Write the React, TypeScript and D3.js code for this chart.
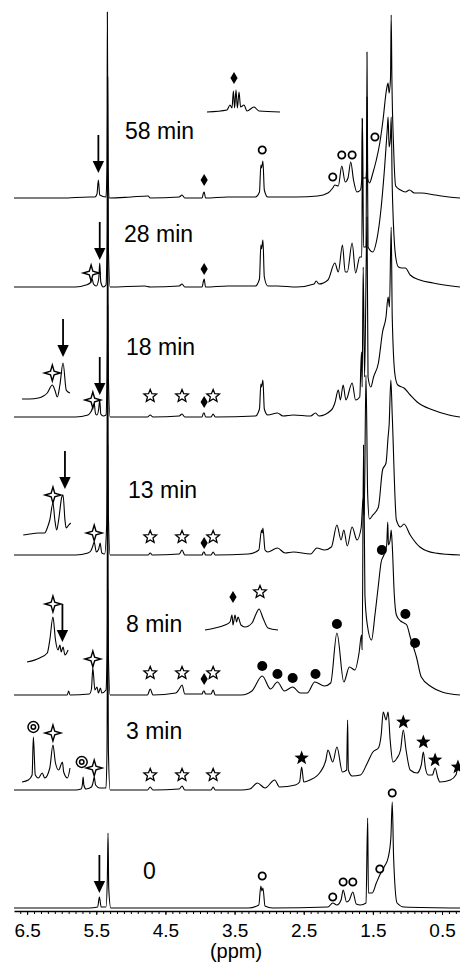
import { useEffect, useRef } from "react";
import * as d3 from "d3";

type Pt = [number, number]; // [ppm, intensity]
type Mark = [string, number, number]; // [kind, ppm, height above baseline]

const times = ["58 min", "28 min", "18 min", "13 min", "8 min", "3 min", "0"];
const tickLabels = [6.5, 5.5, 4.5, 3.5, 2.5, 1.5, 0.5];

// spectra traces
const spec58: Pt[] = [
  [6.69, 0], [6.0, 0], [5.6, 1], [5.52, 1], [5.49, 4], [5.47, 18], [5.45, 3], [5.36, 1],
  [5.345, 30], [5.34, 186], [5.33, 30], [5.31, 0], [5.0, 1], [4.75, 2], [4.72, 0], [4.3, 1],
  [4.26, 3], [4.22, 0], [3.97, 0], [3.95, 5], [3.94, 6], [3.92, 0], [3.6, 1], [3.2, 1],
  [3.14, 6], [3.12, 33], [3.11, 30], [3.09, 37], [3.07, 8], [3.02, 1], [2.6, 1], [2.3, 2],
  [2.15, 5], [2.08, 10], [2.05, 13], [2.0, 12], [1.95, 32], [1.9, 16], [1.86, 20], [1.82, 36],
  [1.78, 18], [1.73, 6], [1.68, 8], [1.66, 20], [1.655, 80], [1.65, 20], [1.6, 20], [1.59, 30],
  [1.585, 146], [1.575, 20], [1.55, 15], [1.5, 25], [1.45, 38], [1.4, 55], [1.35, 80],
  [1.31, 105], [1.29, 113], [1.28, 115], [1.265, 105], [1.245, 120], [1.235, 183], [1.225, 120],
  [1.2, 50], [1.17, 12], [1.1, 8], [1.03, 6], [0.97, 8], [0.9, 5], [0.8, 5], [0.6, 3], [0.4, 1],
  [0.24, 0],
];
const spec28: Pt[] = [
  [6.69, 0], [5.8, 0], [5.65, 2], [5.59, 4], [5.56, 8], [5.54, 3], [5.5, 1], [5.465, 8],
  [5.45, 24], [5.435, 5], [5.4, 0], [5.36, 2], [5.345, 40], [5.335, 210], [5.325, 40], [5.3, 0],
  [4.8, 1], [4.72, 0], [4.3, 1], [4.26, 3], [4.22, 0], [3.97, 0], [3.95, 6], [3.94, 8], [3.92, 0],
  [3.6, 1], [3.2, 1], [3.14, 8], [3.12, 42], [3.11, 38], [3.09, 47], [3.07, 10], [3.02, 1],
  [2.88, 1], [2.6, 0], [2.35, 3], [2.32, 6], [2.28, 3], [2.15, 7], [2.05, 24], [2.0, 15],
  [1.94, 42], [1.9, 15], [1.87, 15], [1.8, 44], [1.75, 14], [1.69, 30], [1.66, 30], [1.65, 168],
  [1.635, 40], [1.6, 40], [1.585, 190], [1.57, 40], [1.5, 35], [1.45, 45], [1.4, 67], [1.33, 120],
  [1.29, 160], [1.28, 170], [1.265, 140], [1.245, 150], [1.235, 170], [1.22, 100], [1.17, 30],
  [1.13, 20], [1.08, 19], [1.03, 19], [0.96, 12], [0.82, 7], [0.63, 4], [0.24, 0],
];
const spec18: Pt[] = [
  [6.69, 0], [5.8, 0], [5.62, 2], [5.59, 4], [5.56, 8], [5.535, 16], [5.51, 3], [5.49, 2],
  [5.465, 8], [5.45, 17], [5.435, 3], [5.4, 1], [5.36, 2], [5.345, 40], [5.335, 230], [5.325, 40],
  [5.3, 0], [4.76, 0], [4.72, 2], [4.68, 0], [4.3, 1], [4.26, 3], [4.22, 0], [3.97, 0], [3.95, 4],
  [3.94, 4], [3.92, 0], [3.84, 0], [3.81, 3], [3.78, 0], [3.2, 1], [3.14, 8], [3.12, 33],
  [3.11, 30], [3.09, 37], [3.07, 8], [3.02, 2], [2.88, 4], [2.8, 1], [2.65, 2], [2.4, 1],
  [2.33, 4], [2.28, 1], [2.1, 7], [2.05, 14], [2.0, 27], [1.97, 17], [1.93, 32], [1.89, 17],
  [1.8, 34], [1.75, 17], [1.69, 20], [1.665, 65], [1.655, 30], [1.64, 150], [1.62, 40],
  [1.585, 200], [1.57, 40], [1.53, 30], [1.49, 40], [1.42, 54], [1.36, 85], [1.31, 100],
  [1.28, 120], [1.26, 110], [1.235, 190], [1.22, 100], [1.18, 42], [1.14, 32], [1.05, 29],
  [0.96, 22], [0.86, 15], [0.63, 7], [0.4, 2], [0.24, 0],
];
const spec13: Pt[] = [
  [6.69, 0], [5.8, 0], [5.62, 2], [5.58, 4], [5.555, 8], [5.53, 13], [5.5, 3], [5.465, 6],
  [5.445, 12], [5.42, 2], [5.38, 1], [5.35, 30], [5.335, 250], [5.325, 40], [5.3, 0], [4.75, 0],
  [4.72, 2], [4.69, 0], [4.3, 1], [4.26, 5], [4.22, 0], [3.97, 0], [3.95, 3], [3.94, 3], [3.92, 0],
  [3.84, 0], [3.81, 3], [3.78, 0], [3.3, 1], [3.15, 5], [3.11, 25], [3.1, 22], [3.09, 27],
  [3.06, 5], [3.02, 3], [2.88, 7], [2.77, 2], [2.65, 3], [2.4, 1], [2.31, 7], [2.2, 5], [2.1, 8],
  [2.02, 30], [1.96, 15], [1.92, 25], [1.87, 9], [1.8, 28], [1.73, 15], [1.67, 27], [1.64, 57],
  [1.625, 40], [1.6, 180], [1.575, 60], [1.55, 36], [1.5, 40], [1.42, 48], [1.36, 85], [1.31, 92],
  [1.28, 118], [1.265, 130], [1.24, 175], [1.22, 140], [1.16, 35], [1.1, 28], [1.05, 31],
  [0.96, 20], [0.82, 8], [0.6, 2], [0.24, 0],
];
const spec8: Pt[] = [
  [6.69, 0], [6.0, 0], [5.92, 0], [5.9, 4], [5.88, 0], [5.6, 1], [5.57, 6], [5.55, 27], [5.52, 5],
  [5.49, 8], [5.47, 2], [5.44, 7], [5.42, 2], [5.36, 5], [5.345, 40], [5.335, 250], [5.325, 40],
  [5.3, 0], [4.76, 0], [4.72, 6], [4.68, 0], [4.35, 2], [4.3, 6], [4.26, 10], [4.22, 1], [3.97, 1],
  [3.95, 4], [3.94, 4], [3.92, 1], [3.84, 1], [3.81, 5], [3.78, 0], [3.4, 0], [3.25, 4],
  [3.1, 19], [2.98, 6], [2.88, 13], [2.78, 4], [2.66, 8], [2.55, 2], [2.45, 2], [2.34, 13],
  [2.2, 9], [2.11, 12], [2.02, 62], [1.92, 13], [1.84, 28], [1.76, 25], [1.7, 42], [1.665, 60],
  [1.655, 45], [1.635, 250], [1.615, 100], [1.58, 70], [1.52, 55], [1.47, 80], [1.42, 110],
  [1.38, 133], [1.34, 140], [1.3, 150], [1.285, 173], [1.275, 150], [1.25, 155], [1.235, 165],
  [1.22, 150], [1.19, 100], [1.16, 80], [1.1, 74], [1.05, 72], [1.01, 70], [0.96, 58],
  [0.9, 45], [0.87, 38], [0.8, 18], [0.65, 8], [0.5, 3], [0.24, 0],
];
const spec3: Pt[] = [
  [6.69, 0], [5.8, 0], [5.72, 1], [5.7, 6], [5.69, 13], [5.68, 5], [5.65, 1], [5.57, 3],
  [5.545, 8], [5.53, 13], [5.51, 5], [5.45, 2], [5.36, 2], [5.345, 40], [5.335, 200],
  [5.325, 40], [5.3, 0], [4.76, 0], [4.72, 3], [4.68, 0], [4.3, 1], [4.26, 4], [4.22, 0],
  [3.84, 0], [3.81, 3], [3.78, 0], [3.4, 0], [3.28, 1], [3.17, 7], [3.06, 2], [2.92, 10],
  [2.85, 3], [2.62, 5], [2.56, 8], [2.53, 23], [2.5, 8], [2.41, 10], [2.26, 18], [2.18, 30],
  [2.15, 40], [2.08, 28], [2.02, 43], [1.94, 18], [1.88, 20], [1.865, 70], [1.855, 20],
  [1.8, 14], [1.68, 15], [1.58, 27], [1.5, 38], [1.42, 42], [1.38, 55], [1.35, 78], [1.31, 70],
  [1.28, 78], [1.25, 50], [1.21, 28], [1.15, 32], [1.1, 40], [1.06, 60], [1.02, 40], [0.96, 20],
  [0.86, 17], [0.8, 25], [0.77, 38], [0.74, 22], [0.7, 15], [0.64, 15], [0.6, 22], [0.56, 12],
  [0.53, 8], [0.38, 10], [0.3, 15], [0.28, 20], [0.24, 24],
];
const spec0: Pt[] = [
  [6.69, 0], [5.6, 0], [5.48, 1], [5.455, 11], [5.43, 1], [5.36, 1], [5.34, 30], [5.33, 75],
  [5.32, 20], [5.29, 0], [3.3, 0], [3.15, 3], [3.12, 22], [3.105, 17], [3.09, 20], [3.06, 2],
  [2.95, 0], [2.15, 1], [2.08, 5], [2.02, 3], [1.96, 8], [1.93, 18], [1.88, 6], [1.84, 8],
  [1.79, 16], [1.74, 4], [1.68, 3], [1.6, 5], [1.575, 90], [1.565, 15], [1.51, 15], [1.45, 25],
  [1.4, 33], [1.33, 42], [1.28, 50], [1.24, 70], [1.22, 106], [1.2, 50], [1.15, 5], [1.05, 1],
  [0.24, 0],
];

// expanded insets
const inset58: Pt[] = [
  [4.08, 0], [3.98, 2], [3.965, 7], [3.955, 4], [3.948, 21], [3.942, 4], [3.935, 22], [3.928, 4],
  [3.92, 20], [3.912, 5], [3.895, 7], [3.88, 1], [3.845, 5], [3.82, 1], [3.715, 0],
];
const inset8c: Pt[] = [
  [4.08, 0], [4.03, 2], [3.98, 5], [3.955, 8], [3.945, 15], [3.94, 5], [3.93, 15], [3.922, 8],
  [3.915, 13], [3.9, 5], [3.88, 3], [3.845, 7], [3.825, 16], [3.81, 21], [3.79, 12], [3.765, 2],
  [3.715, 0],
];
const inset18: Pt[] = [
  [5.78, 0], [5.72, 0], [5.65, 1], [5.61, 3], [5.58, 6], [5.54, 14], [5.52, 9], [5.5, 2],
  [5.48, 14], [5.455, 36], [5.43, 9], [5.415, 7], [5.4, 6],
];
const inset13: Pt[] = [
  [5.77, 0], [5.72, 1], [5.65, 2], [5.6, 2], [5.58, 7], [5.56, 15], [5.535, 32], [5.52, 15],
  [5.505, 5], [5.49, 15], [5.465, 38], [5.455, 40], [5.44, 15], [5.43, 7], [5.41, 10], [5.395, 12],
];
const inset8: Pt[] = [
  [5.74, 0], [5.64, 4], [5.58, 9], [5.56, 22], [5.535, 45], [5.515, 22], [5.495, 12], [5.48, 17],
  [5.47, 10], [5.455, 15], [5.44, 7], [5.415, 12],
];
const inset3: Pt[] = [
  [5.78, 0], [5.73, 2], [5.7, 7], [5.69, 45], [5.675, 7], [5.65, 4], [5.62, 9], [5.6, 4],
  [5.56, 14], [5.535, 37], [5.515, 19], [5.49, 12], [5.46, 20], [5.45, 10], [5.42, 4], [5.4, 14],
];

// peak markers
const marks58: Mark[] = [
  ["arrow", 5.47, 25], ["dia", 3.94, 18], ["o", 3.1, 48], ["o", 2.08, 21], ["o", 1.95, 43],
  ["o", 1.8, 43], ["o", 1.47, 61],
];
const marks28: Mark[] = [["spark", 5.575, 14], ["arrow", 5.45, 27], ["dia", 3.94, 18]];
const marks18: Mark[] = [
  ["spark", 5.55, 17], ["arrow", 5.45, 22], ["star", 4.72, 21], ["star", 4.26, 21],
  ["dia", 3.94, 15], ["star", 3.81, 21],
];
const marks13: Mark[] = [
  ["spark", 5.53, 22], ["star", 4.72, 18], ["star", 4.26, 18], ["dia", 3.94, 12], ["star", 3.81, 18],
];
const marks8: Mark[] = [
  ["spark", 5.55, 36], ["star", 4.72, 22], ["star", 4.26, 22], ["dia", 3.94, 16], ["star", 3.81, 22],
  ["dot", 3.1, 29], ["dot", 2.88, 21], ["dot", 2.66, 17], ["dot", 2.33, 21], ["dot", 2.02, 71],
  ["dot", 1.37, 145], ["dot", 1.03, 81], ["dot", 0.89, 52],
];
const marks3: Mark[] = [
  ["ring", 5.71, 28], ["spark", 5.53, 22], ["star", 4.72, 15], ["star", 4.26, 15], ["star", 3.81, 15],
  ["fstar", 2.53, 32], ["fstar", 1.06, 68], ["fstar", 0.77, 48], ["fstar", 0.6, 30], ["fstar", 0.27, 23],
];
const marks0: Mark[] = [
  ["arrow", 5.455, 15], ["o", 3.1, 32], ["o", 2.08, 11], ["o", 1.93, 26], ["o", 1.79, 26],
  ["o", 1.4, 39], ["o", 1.22, 115],
];
const insetMarks58: Mark[] = [["dia", 3.945, 34]];
const insetMarks8c: Mark[] = [["dia", 3.94, 33], ["star", 3.805, 38]];
const insetMarks18: Mark[] = [["spark", 5.54, 26], ["arrow", 5.455, 42]];
const insetMarks13: Mark[] = [["spark", 5.535, 40], ["arrow", 5.44, 46]];
const insetMarks8: Mark[] = [["spark", 5.535, 58], ["arrow", 5.46, 20]];
const insetMarks3: Mark[] = [["ring", 5.69, 55], ["spark", 5.535, 49]];

const spectra = [spec58, spec28, spec18, spec13, spec8, spec3, spec0];
const markSets = [marks58, marks28, marks18, marks13, marks8, marks3, marks0];

// layout
const W = 460;
const H = 966;
const BASE_Y = [198, 287, 417, 555, 695, 790, 908];
const LABEL_POS: [number, number][] = [
  [125, 139], [124, 242], [126, 355], [128, 498], [126, 632], [126, 739], [143, 879],
];
const LEFT_DOM: [number, number] = [5.78, 5.4];
const MID_DOM: [number, number] = [4.08, 3.715];
const insets = [
  { data: inset58, marks: insetMarks58, dom: MID_DOM, range: [207, 280], base: 112 },
  { data: inset8c, marks: insetMarks8c, dom: MID_DOM, range: [205, 278], base: 630 },
  { data: inset18, marks: insetMarks18, dom: LEFT_DOM, range: [22, 70], base: 399 },
  { data: inset13, marks: insetMarks13, dom: LEFT_DOM, range: [22, 70], base: 535 },
  { data: inset8, marks: insetMarks8, dom: LEFT_DOM, range: [22, 70], base: 662 },
  { data: inset3, marks: insetMarks3, dom: LEFT_DOM, range: [22, 70], base: 782 },
];
const FONT = "'Liberation Sans', Arial, sans-serif";

const starPath = (R: number, r: number) => {
  const pts: string[] = [];
  for (let i = 0; i < 10; i++) {
    const a = (Math.PI / 5) * i - Math.PI / 2;
    const rad = i % 2 === 0 ? R : r;
    pts.push(`${(Math.cos(a) * rad).toFixed(2)},${(Math.sin(a) * rad).toFixed(2)}`);
  }
  return `M${pts.join("L")}Z`;
};
// four-point sparkle with thin concave arms
const sparkPath = (R: number, c: number) =>
  `M0,${-R}L${c},${-c}L${R},0L${c},${c}L0,${R}L${-c},${c}L${-R},0L${-c},${-c}Z`;

function drawMarks(
  g: d3.Selection<SVGGElement, unknown, null, undefined>,
  marks: Mark[],
  xs: (v: number) => number,
  ys: (v: number) => number
) {
  marks.forEach(([kind, ppm, h]) => {
    const cx = xs(ppm);
    const cy = ys(h);
    if (kind === "o") {
      g.append("circle").attr("cx", cx).attr("cy", cy).attr("r", 3.6)
        .attr("fill", "#fff").attr("stroke", "#000").attr("stroke-width", 1.8);
    } else if (kind === "dot") {
      g.append("circle").attr("cx", cx).attr("cy", cy).attr("r", 5).attr("fill", "#000");
    } else if (kind === "ring") {
      g.append("circle").attr("cx", cx).attr("cy", cy).attr("r", 5.4)
        .attr("fill", "#fff").attr("stroke", "#000").attr("stroke-width", 1.5);
      g.append("circle").attr("cx", cx).attr("cy", cy).attr("r", 2.2)
        .attr("fill", "none").attr("stroke", "#000").attr("stroke-width", 1.5);
    } else if (kind === "dia") {
      g.append("path").attr("transform", `translate(${cx},${cy})`)
        .attr("d", "M0,-6L3.6,0L0,6L-3.6,0Z").attr("fill", "#000");
    } else if (kind === "star") {
      g.append("path").attr("transform", `translate(${cx},${cy})`)
        .attr("d", starPath(6.6, 2.9)).attr("fill", "#fff")
        .attr("stroke", "#000").attr("stroke-width", 1.3).attr("stroke-linejoin", "miter");
    } else if (kind === "fstar") {
      g.append("path").attr("transform", `translate(${cx},${cy})`)
        .attr("d", starPath(7.6, 3.2)).attr("fill", "#000");
    } else if (kind === "spark") {
      g.append("path").attr("transform", `translate(${cx},${cy})`)
        .attr("d", sparkPath(8, 1.8)).attr("fill", "#fff")
        .attr("stroke", "#000").attr("stroke-width", 1.4).attr("stroke-linejoin", "miter");
    } else if (kind === "arrow") {
      const len = 38;
      g.append("line").attr("x1", cx).attr("x2", cx)
        .attr("y1", cy - len).attr("y2", cy - 10)
        .attr("stroke", "#000").attr("stroke-width", 1.8);
      g.append("path")
        .attr("d", `M${cx - 5.7},${cy - 12}L${cx + 5.7},${cy - 12}L${cx},${cy}Z`)
        .attr("fill", "#000");
    }
  });
}

const App = () => {
  const svgRef = useRef<SVGSVGElement | null>(null);

  useEffect(() => {
    if (!svgRef.current) return;
    const svg = d3.select(svgRef.current);
    svg.selectAll("*").remove();

    const x = d3.scaleLinear().domain([6.69, 0.24]).range([14, W]);
    const g = svg.append("g");

    spectra.forEach((spec, i) => {
      const y = d3.scaleLinear().domain([0, 100]).range([BASE_Y[i], BASE_Y[i] - 100]);
      const line = d3.line<Pt>().x((d) => x(d[0])).y((d) => y(d[1])).curve(d3.curveMonotoneX);
      g.append("path").datum(spec).attr("d", line).attr("fill", "none")
        .attr("stroke", "#000").attr("stroke-width", 1.1).attr("stroke-linejoin", "round");
      drawMarks(g, markSets[i], x, y);
      g.append("text").attr("x", LABEL_POS[i][0]).attr("y", LABEL_POS[i][1])
        .attr("font-family", FONT).attr("font-size", 23).attr("fill", "#000")
        .text(times[i]);
    });

    insets.forEach((ins) => {
      const xi = d3.scaleLinear().domain(ins.dom).range(ins.range);
      const yi = d3.scaleLinear().domain([0, 100]).range([ins.base, ins.base - 100]);
      const line = d3.line<Pt>().x((d) => xi(d[0])).y((d) => yi(d[1])).curve(d3.curveMonotoneX);
      g.append("path").datum(ins.data).attr("d", line).attr("fill", "none")
        .attr("stroke", "#000").attr("stroke-width", 1.1);
      drawMarks(g, ins.marks, xi, yi);
    });

    // axis
    const axisY = 911;
    const minor = d3.range(3, 67).map((v) => v / 10);
    svg.append("g").attr("transform", `translate(0,${axisY})`)
      .call(d3.axisBottom(x).tickValues(minor).tickSize(3).tickSizeOuter(0).tickFormat(() => ""))
      .call((a) => a.select(".domain").attr("stroke-width", 1.5));
    const major = svg.append("g").attr("transform", `translate(0,${axisY})`)
      .call(d3.axisBottom(x).tickValues(tickLabels).tickSize(4).tickSizeOuter(0)
        .tickFormat((d) => d3.format(".1f")(d as number)));
    major.select(".domain").remove();
    major.selectAll("text").attr("y", 26).attr("dy", 0)
      .attr("font-size", 19).attr("font-family", FONT).attr("fill", "#000");

    svg.append("text").attr("x", 236).attr("y", 958).attr("text-anchor", "middle")
      .attr("font-family", FONT).attr("font-size", 20).attr("fill", "#000").text("(ppm)");
  }, []);

  return (
    <svg
      ref={svgRef}
      width={W}
      height={H}
      style={{ position: "absolute", left: 0, top: 0, background: "#fff" }}
    />
  );
};

export default App;
